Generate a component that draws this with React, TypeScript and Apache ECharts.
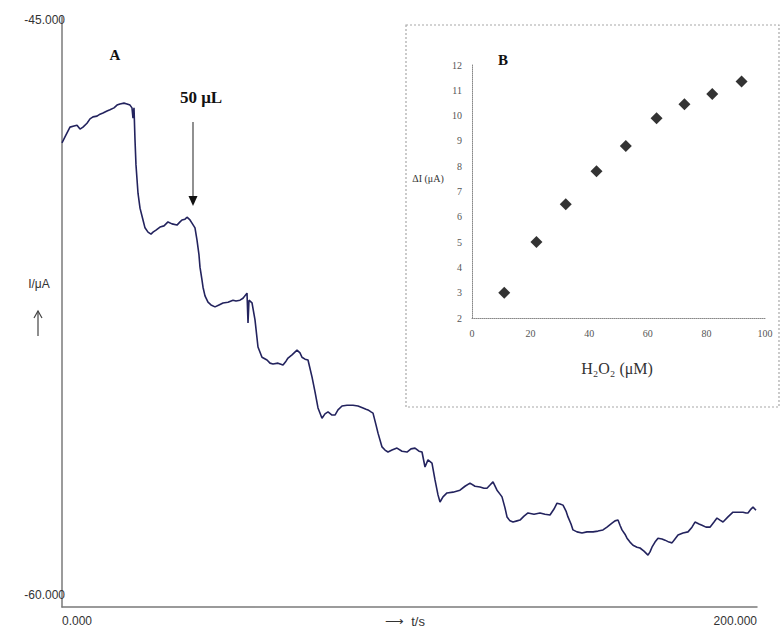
import React, { useEffect, useRef } from "react";
import * as echarts from "echarts";

// Main amperometric trace (t in s, I in µA)
const timeS = [
  0.0, 0.86, 2.3, 3.45, 4.32, 5.18, 6.04, 7.19, 8.06, 8.92, 10.07, 10.94, 11.8, 12.95, 13.81, 14.96, 15.83, 16.69, 17.84, 18.71,
  19.57, 20.14, 20.43, 20.72, 21.01, 21.29, 21.87, 22.45, 23.31, 23.88, 24.75, 25.61, 26.19, 27.05, 28.2, 29.35, 30.5, 31.65, 33.09, 33.96,
  34.53, 35.4, 35.97, 36.83, 37.41, 38.27, 38.85, 39.42, 39.71, 40.29, 40.58, 41.15, 42.01, 42.88, 44.03, 45.18, 46.33, 47.77, 49.21, 50.07,
  51.22, 52.09, 53.24, 53.53, 53.81, 54.68, 55.54, 56.4, 57.55, 58.99, 59.86, 60.72, 62.16, 63.6, 64.46, 65.04, 66.19, 67.63, 68.49, 69.06,
  69.93, 70.79, 71.94, 72.81, 73.67, 74.82, 75.68, 76.55, 77.7, 78.56, 79.42, 80.58, 82.01, 83.74, 85.18, 86.62, 87.48, 88.06, 88.92, 89.5,
  90.36, 90.94, 92.09, 92.95, 93.81, 94.96, 96.4, 97.84, 99.28, 100.43, 101.58, 102.73, 103.6, 104.46, 105.32, 106.47, 107.34, 108.2, 108.78, 109.64,
  110.79, 112.52, 114.53, 115.97, 117.41, 118.85, 120.29, 121.44, 122.3, 123.17, 124.03, 125.18, 126.04, 126.62, 127.48, 128.06, 128.92, 129.78, 130.94, 131.8,
  132.95, 134.1, 135.83, 137.55, 138.99, 140.43, 141.58, 142.45, 143.31, 144.17, 145.04, 145.61, 146.48, 147.05, 148.2, 149.64, 151.08, 152.81, 154.24, 155.68,
  156.83, 158.27, 159.14, 160.0, 160.58, 161.15, 162.01, 162.59, 163.45, 164.32, 165.47, 166.33, 167.48, 168.63, 169.21, 169.78, 170.65, 171.51, 172.66, 173.53,
  174.68, 175.54, 176.4, 177.27, 178.71, 180.14, 181.29, 182.16, 183.31, 184.17, 185.32, 186.47, 187.63, 188.49, 189.35, 190.22, 191.65, 193.09, 194.53, 195.97,
  196.83, 197.41, 198.27, 198.85, 199.71,
];
const currentUA = [
  -48.2, -48.05, -47.8, -47.77, -47.75, -47.85, -47.8, -47.7, -47.59, -47.54, -47.52, -47.47, -47.44, -47.39, -47.36, -47.31, -47.24, -47.21, -47.19, -47.21,
  -47.24, -47.31, -47.57, -47.31, -48.13, -48.76, -49.48, -49.86, -50.16, -50.36, -50.47, -50.52, -50.47, -50.42, -50.34, -50.31, -50.21, -50.26, -50.29, -50.21,
  -50.16, -50.14, -50.09, -50.16, -50.24, -50.36, -50.67, -51.05, -51.36, -51.69, -51.87, -52.09, -52.25, -52.32, -52.37, -52.32, -52.27, -52.25, -52.2, -52.22,
  -52.2, -52.15, -52.02, -52.78, -52.2, -52.27, -52.7, -53.39, -53.65, -53.72, -53.8, -53.82, -53.8, -53.85, -53.75, -53.67, -53.59, -53.47, -53.54, -53.65,
  -53.7, -53.72, -54.15, -54.53, -54.94, -55.2, -55.09, -55.04, -55.12, -55.12, -54.99, -54.89, -54.87, -54.87, -54.89, -54.94, -54.97, -54.99, -55.04, -55.07,
  -55.37, -55.58, -55.93, -56.01, -56.06, -56.01, -55.96, -56.04, -56.06, -55.98, -55.96, -56.04, -56.06, -56.44, -56.26, -56.34, -56.77, -57.15, -57.33, -57.2,
  -57.1, -57.08, -57.03, -56.93, -56.85, -56.93, -56.95, -56.98, -56.98, -56.9, -56.82, -57.03, -57.13, -57.2, -57.48, -57.71, -57.81, -57.84, -57.81, -57.79,
  -57.69, -57.61, -57.64, -57.61, -57.64, -57.66, -57.51, -57.36, -57.38, -57.41, -57.56, -57.71, -57.89, -58.04, -58.09, -58.12, -58.09, -58.09, -58.07, -58.04,
  -57.97, -57.87, -57.81, -57.79, -57.92, -58.04, -58.15, -58.25, -58.35, -58.43, -58.48, -58.5, -58.58, -58.68, -58.6, -58.48, -58.35, -58.25, -58.27, -58.3,
  -58.35, -58.37, -58.27, -58.17, -58.12, -58.09, -57.97, -57.84, -57.89, -57.92, -57.97, -57.97, -57.84, -57.74, -57.79, -57.84, -57.71, -57.59, -57.59, -57.59,
  -57.61, -57.61, -57.51, -57.46, -57.54,
];

// Inset B: calibration points
const concUM = [11, 22, 32, 42.5, 52.5, 63, 72.5, 82, 92];
const deltaIuA = [3.0, 5.0, 6.5, 7.8, 8.8, 9.9, 10.45, 10.85, 11.35];

// Tick labels
const mainXTickLabels: Record<number, string> = { 0: "0.000", 200: "200.000" };
const mainYTickLabels: Record<number, string> = { [-45]: "-45.000", [-60]: "-60.000" };

const SERIF = '"Liberation Serif", "DejaVu Serif", serif';
const SANS = '"Liberation Sans", Arial, sans-serif';

export default function App() {
  const ref = useRef<HTMLDivElement>(null);

  useEffect(() => {
    if (!ref.current) return;
    const chart = echarts.init(ref.current, null, { renderer: "svg" });
    const mainData = timeS.map((t, i) => [t, currentUA[i]]);
    const insetData = concUM.map((c, i) => [c, deltaIuA[i]]);

    chart.setOption({
      animation: false,
      backgroundColor: "#ffffff",
      grid: [
        { left: 62, top: 17, width: 695, height: 590 },
        { left: 472, top: 65, width: 293, height: 253 },
      ],
      xAxis: [
        {
          gridIndex: 0,
          type: "value",
          min: 0,
          max: 200,
          interval: 200,
          axisLine: { show: true, lineStyle: { color: "#7a7a7a", width: 1.5 } },
          axisTick: { show: false },
          splitLine: { show: false },
          axisLabel: {
            margin: 8,
            color: "#333",
            fontFamily: SANS,
            fontSize: 12,
            alignMinLabel: "left",
            alignMaxLabel: "right",
            formatter: (v: number) => mainXTickLabels[v] ?? "",
          },
        },
        {
          gridIndex: 1,
          type: "value",
          min: 0,
          max: 100,
          interval: 20,
          axisLine: { show: true, lineStyle: { color: "#888", width: 1, type: "dotted" } },
          axisTick: { show: false },
          splitLine: { show: false },
          axisLabel: { margin: 10, color: "#555", fontFamily: SERIF, fontSize: 10 },
        },
      ],
      yAxis: [
        {
          gridIndex: 0,
          type: "value",
          min: -60,
          max: -45,
          interval: 15,
          axisLine: { show: true, lineStyle: { color: "#7a7a7a", width: 1.5 } },
          axisTick: { show: false },
          splitLine: { show: false },
          axisLabel: {
            margin: -3,
            color: "#333",
            fontFamily: SANS,
            fontSize: 12,
            formatter: (v: number) =>
              v === -60 ? "{lo|" + mainYTickLabels[v] + "}" : "{hi|" + (mainYTickLabels[v] ?? "") + "}",
            rich: {
              lo: { fontFamily: SANS, fontSize: 12, color: "#333", padding: [0, 0, 24, 0] },
              hi: { fontFamily: SANS, fontSize: 12, color: "#333", padding: [6, 0, 0, 0] },
            },
          },
        },
        {
          gridIndex: 1,
          type: "value",
          min: 2,
          max: 12,
          interval: 1,
          axisLine: { show: true, lineStyle: { color: "#888", width: 1, type: "dotted" } },
          axisTick: { show: false },
          splitLine: { show: false },
          axisLabel: { margin: 10, color: "#555", fontFamily: SERIF, fontSize: 10 },
        },
      ],
      series: [
        {
          type: "line",
          xAxisIndex: 0,
          yAxisIndex: 0,
          data: mainData,
          showSymbol: false,
          lineStyle: { color: "#23235e", width: 1.6 },
          z: 3,
        },
        {
          type: "scatter",
          xAxisIndex: 1,
          yAxisIndex: 1,
          data: insetData,
          symbol: "diamond",
          symbolSize: 12,
          itemStyle: { color: "#000" },
          z: 4,
        },
      ],
      graphic: [
        {
          type: "rect",
          z: -10,
          shape: { x: 406, y: 25, width: 373, height: 382 },
          style: { fill: "#fff", stroke: "#a8a8a8", lineWidth: 1.2, lineDash: [2, 2] },
        },
        {
          type: "text",
          x: 115,
          y: 55,
          style: { text: "A", font: `bold 15px ${SERIF}`, fill: "#111", textAlign: "center", textVerticalAlign: "middle" },
        },
        {
          type: "text",
          x: 201,
          y: 97,
          style: { text: "50 μL", font: `bold 17px ${SERIF}`, fill: "#111", textAlign: "center", textVerticalAlign: "middle" },
        },
        {
          type: "line",
          shape: { x1: 193, y1: 122, x2: 193, y2: 199 },
          style: { stroke: "#555", lineWidth: 1.3 },
        },
        {
          type: "polygon",
          shape: { points: [[188.5, 196], [197.5, 196], [193, 206]] },
          style: { fill: "#111" },
        },
        {
          type: "text",
          x: 39,
          y: 284,
          style: { text: "I/μA", font: `12px ${SANS}`, fill: "#333", textAlign: "center", textVerticalAlign: "middle" },
        },
        {
          type: "line",
          shape: { x1: 38, y1: 311, x2: 38, y2: 336 },
          style: { stroke: "#444", lineWidth: 1.2 },
        },
        {
          type: "polyline",
          shape: { points: [[34, 318], [38, 311], [42, 318]] },
          style: { stroke: "#444", lineWidth: 1.2, fill: null },
        },
        {
          type: "text",
          x: 405,
          y: 621,
          style: { text: "⟶  t/s", font: `13px ${SANS}`, fill: "#333", textAlign: "center", textVerticalAlign: "middle" },
        },
        {
          type: "text",
          x: 503,
          y: 60,
          style: { text: "B", font: `bold 15px ${SERIF}`, fill: "#111", textAlign: "center", textVerticalAlign: "middle" },
        },
        {
          type: "text",
          x: 428,
          y: 178,
          style: { text: "ΔI (μA)", font: `10px ${SERIF}`, fill: "#333", textAlign: "center", textVerticalAlign: "middle" },
        },
        {
          type: "text",
          x: 617,
          y: 368,
          style: { text: "H₂O₂ (μM)", font: `16px ${SERIF}`, fill: "#333", textAlign: "center", textVerticalAlign: "middle" },
        },
      ],
    });

    return () => chart.dispose();
  }, []);

  return (
    <div
      ref={ref}
      style={{ position: "absolute", left: 0, top: 0, width: 781, height: 632, background: "#fff" }}
    />
  );
}
